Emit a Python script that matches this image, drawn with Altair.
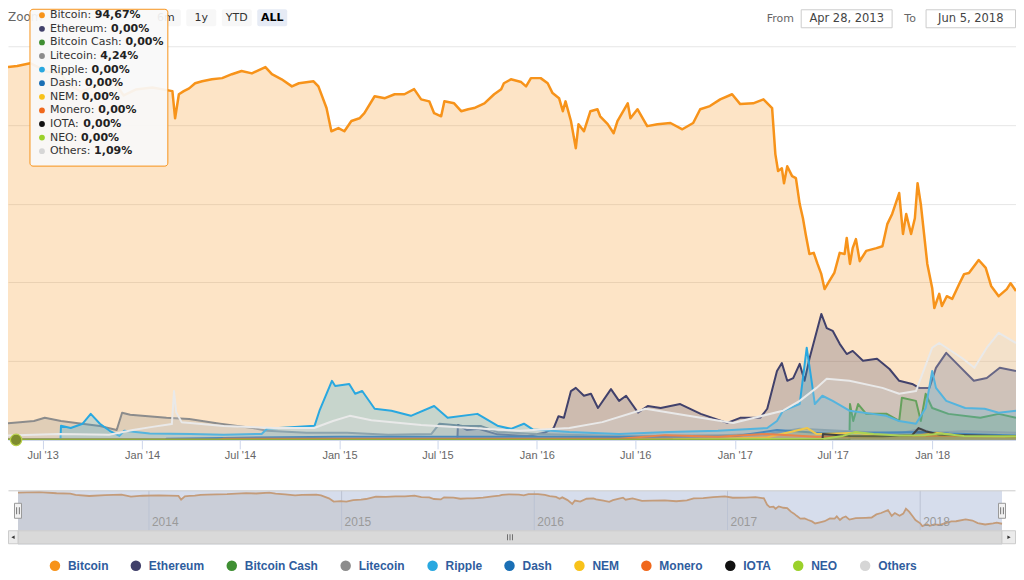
import altair as alt
import pandas as pd

# ---------------- data ----------------
START = "2013-04-28"
END = "2018-06-05"
RANGE_LABELS = ["Apr 28, 2013", "Jun 5, 2018"]

SERIES = ["Bitcoin", "Ethereum", "Bitcoin Cash", "Litecoin", "Ripple", "Dash",
          "NEM", "Monero", "IOTA", "NEO", "Others"]
COLORS = ["#f7931a", "#41416b", "#3f8f33", "#8c8c8c", "#29a8e0", "#1a6fb5",
          "#f8c21a", "#f0681c", "#111111", "#9bd12b", "#d6d6d6"]

BITCOIN = [("2013-04-28", 94.7), ("2013-05-15", 95.0), ("2013-06-08", 95.7), ("2013-07-10", 93.5),
           ("2013-08-05", 93.0), ("2013-08-15", 90.5), ("2013-09-10", 88.5), ("2013-10-10", 90.0),
           ("2013-11-10", 91.0), ("2013-11-28", 87.5), ("2013-12-20", 89.0), ("2014-01-20", 89.5),
           ("2014-02-26", 88.6), ("2014-03-03", 81.7), ("2014-03-10", 87.8), ("2014-03-19", 88.6),
           ("2014-03-29", 89.3), ("2014-04-09", 90.6), ("2014-04-22", 91.1), ("2014-05-10", 91.6),
           ("2014-05-29", 91.9), ("2014-06-16", 92.9), ("2014-07-04", 93.7), ("2014-07-23", 93.1),
           ("2014-08-17", 94.7), ("2014-08-29", 92.9), ("2014-09-16", 91.6), ("2014-10-05", 89.8),
           ("2014-10-18", 90.6), ("2014-11-14", 91.1), ("2014-11-23", 89.8), ("2014-12-08", 84.3),
           ("2014-12-17", 78.4), ("2014-12-30", 79.2), ("2015-01-10", 78.4), ("2015-01-23", 81.0),
           ("2015-02-07", 81.7), ("2015-02-16", 83.0), ("2015-03-07", 87.3), ("2015-03-26", 86.8),
           ("2015-04-13", 87.8), ("2015-05-01", 87.8), ("2015-05-19", 89.1), ("2015-06-01", 86.5),
           ("2015-06-16", 86.0), ("2015-06-25", 83.0), ("2015-07-08", 82.2), ("2015-07-14", 86.0),
           ("2015-08-01", 85.5), ("2015-08-14", 83.5), ("2015-08-27", 84.0), ("2015-09-07", 84.3),
           ("2015-09-26", 85.5), ("2015-10-14", 87.8), ("2015-10-27", 89.1), ("2015-11-01", 90.6),
           ("2015-11-14", 91.6), ("2015-12-03", 90.9), ("2015-12-12", 89.8), ("2015-12-21", 91.9),
           ("2016-01-08", 91.9), ("2016-01-21", 90.6), ("2016-01-30", 88.1), ("2016-02-11", 86.8),
           ("2016-02-18", 83.5), ("2016-02-23", 86.0), ("2016-03-04", 81.0), ("2016-03-13", 74.1),
           ("2016-03-18", 80.2), ("2016-03-28", 78.4), ("2016-04-09", 83.5), ("2016-04-22", 84.0),
           ("2016-04-27", 82.2), ("2016-05-11", 80.2), ("2016-05-22", 77.9), ("2016-05-29", 81.0),
           ("2016-06-17", 85.5), ("2016-06-22", 81.7), ("2016-07-05", 84.0), ("2016-07-23", 79.7),
           ("2016-08-11", 80.2), ("2016-09-04", 80.5), ("2016-09-26", 78.9), ("2016-10-16", 80.5),
           ("2016-10-29", 84.0), ("2016-11-16", 84.8), ("2016-12-05", 86.5), ("2016-12-27", 87.8),
           ("2017-01-11", 85.3), ("2017-02-04", 85.5), ("2017-02-23", 86.5), ("2017-03-11", 84.3),
           ("2017-03-17", 72.6), ("2017-03-22", 68.3), ("2017-03-29", 69.0), ("2017-04-02", 65.2),
           ("2017-04-08", 69.5), ("2017-04-17", 67.0), ("2017-04-24", 66.5), ("2017-05-01", 59.9),
           ("2017-05-07", 56.3), ("2017-05-12", 52.3), ("2017-05-19", 47.2), ("2017-05-27", 47.5),
           ("2017-06-03", 44.7), ("2017-06-10", 42.1), ("2017-06-16", 38.3), ("2017-06-25", 40.4),
           ("2017-07-04", 42.4), ("2017-07-14", 47.5), ("2017-07-23", 47.2), ("2017-07-27", 51.3),
           ("2017-08-02", 44.7), ("2017-08-07", 48.7), ("2017-08-13", 51.0), ("2017-08-20", 45.4),
           ("2017-09-01", 48.0), ("2017-09-20", 48.7), ("2017-10-01", 49.2), ("2017-10-10", 54.8),
           ("2017-10-19", 57.4), ("2017-11-01", 62.7), ("2017-11-08", 52.3), ("2017-11-14", 57.4),
           ("2017-11-23", 52.3), ("2017-11-30", 56.3), ("2017-12-05", 65.2), ("2017-12-11", 59.9),
           ("2017-12-17", 52.3), ("2017-12-23", 44.7), ("2018-01-01", 38.6), ("2018-01-05", 33.5),
           ("2018-01-14", 37.1), ("2018-01-19", 34.0), ("2018-01-28", 36.5), ("2018-02-07", 35.8),
           ("2018-02-20", 39.6), ("2018-03-01", 42.1), ("2018-03-10", 42.4), ("2018-03-28", 45.7),
           ("2018-04-10", 43.7), ("2018-04-20", 39.1), ("2018-05-04", 36.5), ("2018-05-19", 38.3),
           ("2018-05-26", 39.8), ("2018-06-05", 37.8)]

ETHEREUM = [("2013-04-28", 0), ("2015-08-07", 0), ("2015-08-08", 3.8), ("2015-08-25", 2.5),
            ("2015-09-15", 2.8), ("2015-10-20", 1.4), ("2015-12-15", 1.0), ("2016-01-15", 1.8),
            ("2016-02-01", 3.0), ("2016-02-10", 6.0), ("2016-02-20", 5.6), ("2016-03-04", 12.4),
            ("2016-03-13", 13.2), ("2016-03-28", 11.2), ("2016-04-10", 11.7), ("2016-04-23", 8.1),
            ("2016-05-17", 12.9), ("2016-06-01", 9.9), ("2016-06-14", 11.2), ("2016-07-06", 6.9),
            ("2016-07-24", 8.6), ("2016-08-17", 8.1), ("2016-09-22", 9.1), ("2016-10-30", 6.6),
            ("2016-12-18", 4.3), ("2017-01-11", 5.6), ("2017-02-17", 5.6), ("2017-03-02", 7.9),
            ("2017-03-20", 17.5), ("2017-03-29", 19.5), ("2017-04-08", 15.0), ("2017-04-19", 15.7),
            ("2017-05-01", 19.3), ("2017-05-10", 15.0), ("2017-05-19", 20.6), ("2017-06-10", 32.0),
            ("2017-06-20", 28.4), ("2017-07-01", 27.7), ("2017-07-14", 24.4), ("2017-07-27", 21.8),
            ("2017-08-07", 22.6), ("2017-08-26", 20.1), ("2017-09-21", 20.6), ("2017-10-14", 18.0),
            ("2017-11-01", 15.0), ("2017-11-25", 14.2), ("2017-12-08", 13.2), ("2017-12-27", 13.2),
            ("2018-01-08", 18.3), ("2018-01-27", 22.1), ("2018-02-16", 19.3), ("2018-03-19", 15.0),
            ("2018-04-12", 15.7), ("2018-05-06", 18.3), ("2018-06-05", 17.5)]

BITCOIN_CASH = [("2013-04-28", 0), ("2017-08-01", 0), ("2017-08-02", 9.1), ("2017-08-08", 4.8),
                ("2017-08-17", 9.1), ("2017-09-01", 6.6), ("2017-10-09", 6.6), ("2017-11-01", 4.8),
                ("2017-11-06", 10.7), ("2017-12-02", 9.9), ("2017-12-11", 4.8), ("2017-12-20", 11.7),
                ("2018-01-01", 8.1), ("2018-01-31", 6.6), ("2018-03-31", 5.6), ("2018-05-04", 6.6),
                ("2018-06-05", 5.6)]

LITECOIN = [("2013-04-28", 4.24), ("2013-05-20", 4.5), ("2013-06-15", 4.8), ("2013-07-05", 5.6),
            ("2013-08-04", 4.8), ("2013-09-01", 4.3), ("2013-10-15", 3.5), ("2013-11-15", 2.5),
            ("2013-11-25", 6.9), ("2013-12-10", 6.4), ("2014-01-01", 6.1), ("2014-02-15", 5.6),
            ("2014-03-29", 5.3), ("2014-05-25", 4.1), ("2014-07-25", 3.0), ("2014-08-20", 2.3),
            ("2014-11-01", 1.8), ("2015-01-15", 1.8), ("2015-04-01", 1.3), ("2015-06-20", 1.5),
            ("2015-07-05", 4.1), ("2015-08-15", 3.6), ("2015-09-20", 3.5), ("2015-10-20", 2.0),
            ("2016-01-01", 1.5), ("2016-06-01", 1.0), ("2016-12-01", 1.2), ("2017-03-01", 1.5),
            ("2017-05-01", 2.8), ("2017-08-01", 2.2), ("2017-11-01", 1.6), ("2017-12-12", 2.8),
            ("2018-01-01", 1.8), ("2018-03-01", 2.2), ("2018-06-05", 1.8)]

RIPPLE = [("2013-04-28", 0), ("2013-08-03", 0), ("2013-08-04", 3.6), ("2013-08-22", 3.0),
          ("2013-09-13", 4.1), ("2013-09-28", 6.6), ("2013-10-15", 4.1), ("2013-11-02", 2.3),
          ("2013-11-20", 1.0), ("2013-11-29", 2.3), ("2014-01-15", 1.6), ("2014-04-01", 1.5),
          ("2014-06-01", 1.3), ("2014-08-10", 1.5), ("2014-08-20", 2.8), ("2014-11-16", 3.6),
          ("2014-11-25", 7.4), ("2014-12-18", 15.0), ("2014-12-24", 13.7), ("2015-01-19", 14.2),
          ("2015-01-30", 11.7), ("2015-02-12", 12.4), ("2015-03-07", 7.9), ("2015-04-07", 7.4),
          ("2015-05-13", 6.1), ("2015-06-25", 8.6), ("2015-07-20", 5.6), ("2015-09-13", 6.6),
          ("2015-10-20", 3.6), ("2015-11-14", 2.8), ("2015-12-08", 4.1), ("2015-12-25", 2.6),
          ("2016-03-01", 2.0), ("2016-06-01", 1.5), ("2016-09-01", 2.0), ("2016-12-01", 2.3),
          ("2017-03-02", 3.0), ("2017-03-20", 4.8), ("2017-03-31", 7.4), ("2017-05-01", 9.1),
          ("2017-05-14", 23.4), ("2017-05-23", 15.0), ("2017-05-29", 9.1), ("2017-06-12", 11.2),
          ("2017-07-01", 9.9), ("2017-08-01", 7.4), ("2017-09-13", 6.6), ("2017-10-08", 6.1),
          ("2017-11-01", 4.8), ("2017-12-02", 4.1), ("2017-12-20", 8.1), ("2018-01-01", 17.5),
          ("2018-01-08", 13.2), ("2018-01-27", 9.9), ("2018-03-03", 8.1), ("2018-04-08", 7.9),
          ("2018-05-04", 6.9), ("2018-06-05", 7.4)]

DASH = [("2013-04-28", 0), ("2014-02-14", 0), ("2014-02-15", 0.3), ("2014-06-01", 0.5),
        ("2015-01-01", 0.8), ("2016-01-01", 0.8), ("2016-06-01", 0.7), ("2017-01-01", 0.9),
        ("2017-03-20", 2.5), ("2017-06-01", 1.8), ("2017-09-01", 1.8), ("2017-12-15", 2.0),
        ("2018-02-01", 1.6), ("2018-06-05", 1.1)]

NEM = [("2013-04-28", 0), ("2015-04-01", 0), ("2015-06-01", 0.1), ("2016-06-01", 0.1),
       ("2016-12-01", 0.3), ("2017-03-01", 0.6), ("2017-05-15", 3.0), ("2017-06-01", 1.5),
       ("2017-08-15", 1.8), ("2017-10-01", 1.0), ("2017-12-01", 1.0), ("2018-01-08", 1.8),
       ("2018-03-01", 0.9), ("2018-06-05", 0.7)]

MONERO = [("2013-04-28", 0), ("2014-05-21", 0), ("2014-06-01", 0.3), ("2015-01-01", 0.3),
          ("2016-06-01", 0.3), ("2016-08-25", 1.2), ("2016-12-01", 0.8), ("2017-03-01", 1.5),
          ("2017-06-01", 0.8), ("2017-12-01", 1.0), ("2018-06-05", 1.0)]

IOTA = [("2013-04-28", 0), ("2017-06-12", 0), ("2017-06-13", 1.5), ("2017-08-01", 1.0),
        ("2017-10-01", 0.9), ("2017-11-25", 1.2), ("2017-12-07", 3.0), ("2017-12-20", 2.2),
        ("2018-01-15", 1.3), ("2018-06-05", 0.9)]

NEO = [("2013-04-28", 0), ("2016-09-08", 0), ("2016-09-09", 0.1), ("2017-06-15", 0.3),
       ("2017-07-20", 1.0), ("2017-08-12", 2.0), ("2017-09-15", 1.5), ("2017-11-01", 1.1),
       ("2017-12-20", 1.2), ("2018-01-15", 1.6), ("2018-03-01", 1.0), ("2018-06-05", 0.9)]

OTHERS = [("2013-04-28", 1.09), ("2013-08-01", 1.5), ("2013-11-01", 1.3), ("2013-12-15", 2.5),
          ("2014-01-20", 3.3), ("2014-02-25", 4.0), ("2014-03-01", 12.4), ("2014-03-05", 7.0),
          ("2014-03-15", 4.5), ("2014-06-01", 3.5), ("2014-09-01", 3.0), ("2014-11-15", 3.0),
          ("2014-12-20", 4.8), ("2015-01-20", 6.1), ("2015-03-01", 5.0), ("2015-06-01", 3.8),
          ("2015-09-01", 3.0), ("2015-12-01", 2.3), ("2016-03-01", 3.0), ("2016-05-01", 4.5),
          ("2016-07-20", 7.9), ("2016-10-30", 5.6), ("2016-12-29", 4.3), ("2017-03-31", 7.4),
          ("2017-05-01", 9.9), ("2017-06-01", 13.2), ("2017-06-20", 15.5), ("2017-08-01", 15.0),
          ("2017-10-01", 13.2), ("2017-11-01", 11.7), ("2017-12-02", 12.4), ("2018-01-01", 23.4),
          ("2018-01-14", 24.6), ("2018-02-25", 20.8), ("2018-03-20", 18.3), ("2018-04-12", 23.4),
          ("2018-05-04", 27.2), ("2018-06-05", 24.6)]

SERIES_POINTS = [BITCOIN, ETHEREUM, BITCOIN_CASH, LITECOIN, RIPPLE, DASH, NEM, MONERO, IOTA, NEO, OTHERS]

TOOLTIP_VALUES = ["94,67%", "0,00%", "0,00%", "4,24%", "0,00%", "0,00%",
                  "0,00%", "0,00%", "0,00%", "0,00%", "1,09%"]
HOVER_DATE = "2013-05-13"

X_TICKS = ["2013-07-01", "2014-01-01", "2014-07-01", "2015-01-01", "2015-07-01",
           "2016-01-01", "2016-07-01", "2017-01-01", "2017-07-01", "2018-01-01"]
NAV_YEARS = ["2014", "2015", "2016", "2017", "2018"]
BUTTONS = ["1m", "3m", "6m", "1y", "YTD", "ALL"]

# ---------------- helpers ----------------
def dt(s):
    y, m, d = map(int, s.split("-"))
    return alt.DateTime(year=y, month=m, date=d, utc=True)

DEJAVU = {' ': .318, ':': .337, 'A': .684, 'B': .686, 'C': .698, 'D': .770, 'E': .632,
          'I': .295, 'L': .557, 'M': .863, 'N': .748, 'O': .787, 'R': .695, 'T': .611,
          'a': .613, 'c': .550, 'e': .615, 'h': .634, 'i': .278, 'l': .278, 'm': .974,
          'n': .634, 'o': .612, 'p': .635, 'r': .411, 's': .521, 't': .392, 'u': .634}

def text_w(s, size=11):
    return sum(DEJAVU.get(ch, .6) for ch in s) * size

rows = []
for name, pts in zip(SERIES, SERIES_POINTS):
    for d, v in pts:
        rows.append({"series": name, "date": d, "value": v})
df = pd.DataFrame(rows)

W, H = 1009, 394
FONT = "DejaVu Sans"

xscale = alt.Scale(type="utc", domain=[dt(START), dt(END)], nice=False)
xaxis = alt.Axis(values=[dt(d) for d in X_TICKS], format="%b '%y",
                 labelColor="#666666", labelFontSize=11, labelFont="Liberation Sans",
                 tickColor="#ccd6eb", tickSize=9, labelPadding=1, domainColor="#ccd6eb",
                 grid=False, title=None, labelFlush=False)
yaxis = alt.Axis(values=[0, 20, 40, 60, 80, 100], labels=False, ticks=False, domain=False,
                 grid=True, gridColor="#e6e6e6", title=None)
xenc = alt.X("date:T", scale=xscale, axis=xaxis)
yenc = alt.Y("value:Q", scale=alt.Scale(domain=[0, 100], nice=False, zero=False),
             axis=yaxis, stack=None)

layers = []
for name, color in zip(SERIES, COLORS):
    sub = alt.Chart(df).transform_filter(alt.datum.series == name)
    layers.append(sub.mark_area(fill=color, fillOpacity=0.25, clip=True).encode(x=xenc, y=yenc))
    lw = 2.5 if name == "Bitcoin" else 2
    lc = "#e9e9e9" if name == "Others" else color
    layers.append(sub.mark_line(color=lc, strokeWidth=lw, strokeJoin="round", clip=True)
                  .encode(x=xenc, y=yenc))

# hover marker
hover_df = pd.DataFrame({"date": [HOVER_DATE], "value": [0]})
layers.append(alt.Chart(hover_df).mark_point(filled=True, size=130, fill="#7e8c2e",
                                             stroke="#b9d24a", strokeWidth=1.2, opacity=1)
              .encode(x=xenc, y=yenc))

def px(f):
    return alt.X(f, scale=None, axis=None)

def py(f):
    return alt.Y(f, scale=None, axis=None)

# header: zoom buttons (1m / 3m sit fully under the tooltip)
btn = pd.DataFrame({"label": BUTTONS})
btn["cx"] = [87 + 35.5 * i for i in range(len(BUTTONS))]
btn["x1"] = btn["cx"] - 15
btn["x2"] = btn["cx"] + 15
btn["y1"] = -37
btn["y2"] = -20
btn["ty"] = -28.5
btn["fill"] = ["#e6ebf5" if b == "ALL" else "#f7f7f7" for b in BUTTONS]
btn["shown"] = [i >= 2 for i in range(len(BUTTONS))]
layers.append(alt.Chart(btn).mark_rect(cornerRadius=2).encode(
    x=px("x1:Q"), x2="x2:Q", y=py("y1:Q"), y2="y2:Q", color=alt.Color("fill:N", scale=None)))
layers.append(alt.Chart(btn).transform_filter((alt.datum.label != "ALL") & alt.datum.shown)
              .mark_text(font=FONT, fontSize=11, color="#333333")
              .encode(x=px("cx:Q"), y=py("ty:Q"), text="label:N"))
layers.append(alt.Chart(btn).transform_filter(alt.datum.label == "ALL").mark_text(
    font=FONT, fontSize=11, fontWeight="bold", color="#000000").encode(
    x=px("cx:Q"), y=py("ty:Q"), text="label:N"))

zoom_df = pd.DataFrame({"t": ["Zoom"], "x": [0], "y": [-29]})
layers.append(alt.Chart(zoom_df).mark_text(font=FONT, fontSize=12, color="#666666", align="left")
              .encode(x=px("x:Q"), y=py("y:Q"), text="t:N"))

# header: From / To boxes
rng = pd.DataFrame({"lab": ["From", "To"], "val": RANGE_LABELS,
                    "lx": [773, 903], "bx1": [794, 919], "bx2": [885, 1008.5]})
rng["bcx"] = (rng["bx1"] + rng["bx2"]) / 2
rng["y1"] = -36.5
rng["y2"] = -18.5
rng["ty"] = -27.5
layers.append(alt.Chart(rng).mark_rect(fill="white", stroke="#cccccc", strokeWidth=1).encode(
    x=px("bx1:Q"), x2="bx2:Q", y=py("y1:Q"), y2="y2:Q"))
layers.append(alt.Chart(rng).mark_text(font=FONT, fontSize=11, color="#666666").encode(
    x=px("lx:Q"), y=py("ty:Q"), text="lab:N"))
layers.append(alt.Chart(rng).mark_text(font=FONT, fontSize=11.5, color="#444444").encode(
    x=px("bcx:Q"), y=py("ty:Q"), text="val:N"))

# tooltip
tt_box = pd.DataFrame({"x1": [22], "x2": [160], "y1": [-37], "y2": [120]})
layers.append(alt.Chart(tt_box).mark_rect(fill="#f9f9f9", fillOpacity=0.93, stroke="#f7931a",
                                          strokeWidth=1, cornerRadius=3).encode(
    x=px("x1:Q"), x2="x2:Q", y=py("y1:Q"), y2="y2:Q"))
tt = pd.DataFrame({"series": SERIES, "color": COLORS, "val": TOOLTIP_VALUES})
tt["y"] = [-31 + 13.6 * i for i in range(len(SERIES))]
tt["dx"] = 34
tt["nx"] = 42
tt["name"] = [s + ": " for s in SERIES]
tt["vx"] = [42 + text_w(s + ": ") for s in SERIES]
layers.append(alt.Chart(tt).mark_circle(size=34, opacity=1).encode(
    x=px("dx:Q"), y=py("y:Q"), color=alt.Color("color:N", scale=None)))
layers.append(alt.Chart(tt).mark_text(font=FONT, fontSize=11, color="#333333", align="left").encode(
    x=px("nx:Q"), y=py("y:Q"), text="name:N"))
layers.append(alt.Chart(tt).mark_text(font=FONT, fontSize=11, fontWeight="bold", color="#222222",
                                      align="left").encode(
    x=px("vx:Q"), y=py("y:Q"), text="val:N"))

main = alt.layer(*layers).properties(width=W, height=H)

# ---------------- navigator ----------------
NH = 40
nscale = alt.Scale(type="utc", domain=[dt(START), dt(END)], range=[10, 995], nice=False)
nx = alt.X("date:T", scale=nscale, axis=None)
nyscale = alt.Scale(domain=[25, 98], nice=False, zero=False)
ny = alt.Y("value:Q", scale=nyscale, axis=None)

legend_df = pd.DataFrame({"series": SERIES, "date": START, "value": 60})
btc_df = pd.DataFrame(BITCOIN, columns=["date", "value"])
range_df = pd.DataFrame({"start": [START], "end": [END]})
ends_df = pd.DataFrame({"date": [START, END]})
years_df = pd.DataFrame({"label": NAV_YEARS, "date": [y + "-01-01" for y in NAV_YEARS]})

nav_layers = [
    alt.Chart(legend_df).mark_circle(size=0, opacity=1).encode(
        x=nx, y=ny,
        color=alt.Color("series:N", scale=alt.Scale(domain=SERIES, range=COLORS),
                        legend=alt.Legend(orient="none", legendX=41, legendY=514,
                                          direction="horizontal", title=None,
                                          symbolType="circle", symbolSize=110,
                                          symbolStrokeWidth=0, symbolOpacity=1,
                                          labelFont="Liberation Sans", labelFontSize=12,
                                          labelFontWeight="bold", labelColor="#2f5d9e",
                                          columnPadding=21, labelOffset=7, padding=0))),
    alt.Chart(range_df).mark_rect(color="#d6ddec").encode(
        x=alt.X("start:T", scale=nscale, axis=None), x2="end:T",
        y=alt.value(0), y2=alt.value(NH)),
    alt.Chart(btc_df).mark_area(color="#caced8").encode(x=nx, y=ny, y2=alt.value(NH)),
    alt.Chart(years_df).mark_rule(color="#bcc3d3", strokeWidth=1).encode(
        x=nx, y=alt.value(0), y2=alt.value(NH)),
    alt.Chart(btc_df).mark_line(color="#c49c7a", strokeWidth=1.8).encode(x=nx, y=ny),
    alt.Chart(years_df).mark_text(align="left", dx=3, color="#9a9a9a", fontSize=12,
                                  font="Liberation Sans").encode(
        x=nx, y=alt.value(31), text="label:N"),
    alt.Chart(range_df).mark_rule(color="#cccccc", strokeWidth=1).encode(
        x=alt.value(0.5), x2=alt.value(W - 0.5), y=alt.value(0)),
    # scrollbar
    alt.Chart(range_df).mark_rect(fill="#f2f2f2").encode(
        x=alt.value(0), x2=alt.value(W), y=alt.value(NH), y2=alt.value(NH + 13)),
    alt.Chart(range_df).mark_rect(fill="#d9d9d9", stroke="#cccccc", strokeWidth=1).encode(
        x=alt.X("start:T", scale=nscale, axis=None), x2="end:T",
        y=alt.value(NH), y2=alt.value(NH + 13)),
    alt.Chart(range_df).mark_rect(fill="#ebebeb", stroke="#cccccc", strokeWidth=1).encode(
        x=alt.value(0.5), x2=alt.value(10), y=alt.value(NH), y2=alt.value(NH + 13)),
    alt.Chart(range_df).mark_rect(fill="#ebebeb", stroke="#cccccc", strokeWidth=1).encode(
        x=alt.value(995), x2=alt.value(W - 0.5), y=alt.value(NH), y2=alt.value(NH + 13)),
    alt.Chart(range_df).mark_point(shape="triangle-left", filled=True, size=14, color="#333333",
                                   opacity=1).encode(x=alt.value(5), y=alt.value(NH + 6.5)),
    alt.Chart(range_df).mark_point(shape="triangle-right", filled=True, size=14, color="#333333",
                                   opacity=1).encode(x=alt.value(1002), y=alt.value(NH + 6.5)),
]
for gx in (500, 502.5, 505):
    nav_layers.append(alt.Chart(range_df).mark_rule(color="#555555", strokeWidth=0.8).encode(
        x=alt.value(gx), y=alt.value(NH + 3.5), y2=alt.value(NH + 9.5)))
# handles
nav_layers.append(alt.Chart(ends_df).mark_tick(thickness=7, size=15, fill="#f2f2f2",
                                               stroke="#999999", strokeWidth=1, opacity=1).encode(
    x=nx, y=alt.value(20)))
for off in (-1.3, 1.3):
    nav_layers.append(alt.Chart(ends_df).mark_tick(thickness=0.8, size=7, color="#555555",
                                                   xOffset=off, opacity=1).encode(
        x=nx, y=alt.value(20)))

nav = alt.layer(*nav_layers).properties(width=W, height=NH)

chart = (alt.vconcat(main, nav, spacing=51, bounds="flush")
         .properties(padding=0, background="white")
         .configure_view(strokeWidth=0))

chart.save("out.html", embed_options={"renderer": "svg", "actions": False})
